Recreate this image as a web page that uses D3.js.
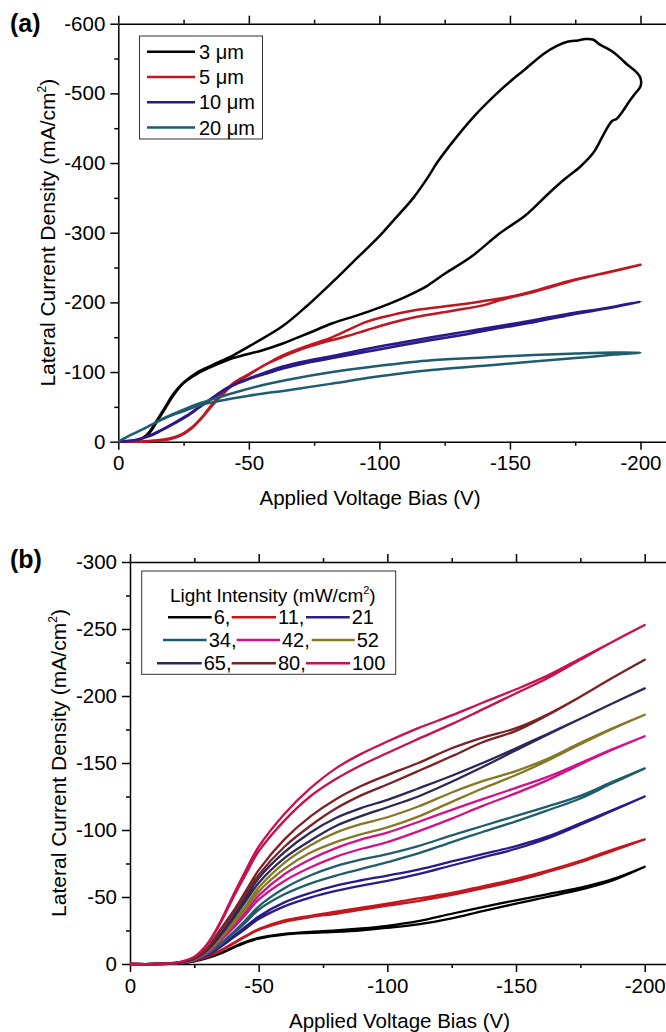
<!DOCTYPE html>
<html>
<head>
<meta charset="utf-8">
<script src="https://cdn.jsdelivr.net/npm/d3@7"></script>
<style>
  html, body { margin: 0; padding: 0; background: #fff; }
  svg { display: block; font-family: "Liberation Sans", Arial, sans-serif; }
  .domain, .tick line { stroke: #000; stroke-width: 1.5; }
</style>
</head>
<body>
<svg id="chart" width="666" height="1032"></svg>
<script>
/* lateral J-V hysteresis, two panels */

// ---- panel (a): gap width, [V, J] loops (forward then back)
const gapLabels = ['3 \u03bcm', '5 \u03bcm', '10 \u03bcm', '20 \u03bcm'];
const gapColors = ['#000000', '#c0161f', '#2b1889', '#1f5c6e'];

const loop3 = [
  [0, 0], [-4, -1], [-8, -3], [-11, -10], [-13, -20], [-15, -32], [-18, -50], [-21, -68],
  [-25, -85], [-30, -99], [-36, -110], [-44, -124], [-52, -141], [-63, -166], [-72, -194],
  [-82, -229], [-91, -262], [-100, -295], [-105, -316], [-113, -350], [-119, -382], [-122, -400],
  [-128, -430], [-136, -466], [-145, -500], [-151, -520], [-155, -532], [-163, -557],
  [-168, -568], [-172, -574], [-176, -576], [-179, -578], [-182, -577], [-184, -571],
  [-187, -565], [-190, -558], [-193, -548], [-195, -541], [-198, -532], [-200, -522], [-200, -510],
  [-198, -500], [-196, -490], [-191, -464], [-189, -460], [-186, -442], [-182, -415],
  [-177, -395], [-171, -377], [-165, -357], [-156, -325], [-146, -299], [-135, -265],
  [-125, -241], [-118, -223], [-110, -208], [-101, -194], [-92, -182], [-82, -170],
  [-73, -156], [-63, -141], [-55, -131], [-44, -120], [-36, -108], [-30, -97], [-25, -84],
  [-21, -66], [-18, -48], [-15, -30], [-13, -18], [-11, -9], [-8, -3], [-4, -1], [0, 0]
];
const loop5 = [
  [0, 0], [-5, 0], [-10, -0.5], [-15, -2], [-20, -5], [-24, -10], [-28, -20], [-32, -35],
  [-36, -54], [-40, -70], [-44, -84], [-50, -97], [-56, -110], [-63, -124], [-72, -137],
  [-82, -150], [-95, -172], [-105, -182], [-114, -189], [-127, -195], [-140, -202],
  [-150, -208], [-160, -217], [-172, -230], [-185, -241], [-200, -254],
  [-190, -245], [-175, -232], [-160, -216], [-146, -203], [-140, -196], [-128, -188],
  [-114, -179], [-104, -170], [-95, -160], [-88, -152], [-82, -146], [-72, -135],
  [-63, -122], [-56, -110], [-50, -96], [-44, -82], [-40, -68], [-36, -52], [-32, -34],
  [-28, -19], [-24, -9], [-20, -4], [-15, -1.5], [-10, 0], [0, 0]
];
const loop10 = [
  [0, 0], [-6, -2], [-12, -9], [-16, -16], [-21, -26], [-26, -37], [-31, -50], [-36, -63],
  [-41, -76], [-46, -85], [-50, -91], [-56, -99], [-63, -108], [-72, -116], [-82, -123],
  [-95, -133], [-108, -142], [-120, -150], [-133, -158], [-146, -166], [-160, -175],
  [-173, -184], [-187, -192], [-200, -201],
  [-187, -191], [-173, -182], [-160, -172], [-146, -163], [-133, -154], [-120, -146],
  [-108, -138], [-95, -129], [-82, -120], [-72, -113], [-63, -105], [-56, -97], [-50, -90],
  [-46, -84], [-41, -75], [-36, -62], [-31, -49], [-26, -36], [-21, -25], [-16, -15],
  [-12, -8], [-6, -2], [0, 0]
];
const loop20 = [
  [0, 0], [-5, -10], [-11, -21], [-18, -35], [-25, -46], [-31, -55], [-38, -63], [-45, -71],
  [-55, -81], [-65, -89], [-82, -100], [-100, -109], [-120, -117], [-140, -121],
  [-159, -124.5], [-175, -126.5], [-190, -128], [-200, -128],
  [-190, -125], [-175, -120], [-159, -115], [-140, -109], [-120, -103], [-100, -94],
  [-82, -83.5], [-65, -74], [-50, -66], [-38, -58], [-31, -52], [-25, -44], [-18, -34],
  [-11, -21], [-5, -10], [0, 0]
];
const gapLoops = [loop3, loop5, loop10, loop20];

// ---- panel (b): light intensity, common bias grid, forward / reverse sweeps
const intensities = ['6', '11', '21', '34', '42', '52', '65', '80', '100'];
const intColors = ['#000000', '#c4161f', '#2b1a8a', '#1f5d6d', '#d0138a',
                   '#857827', '#2b2858', '#7a2226', '#c8124e'];
const VB = [0, -10, -15, -20, -25, -30, -35, -40, -45, -50, -60, -70, -80, -90, -100,
            -112, -125, -137, -150, -162, -175, -187, -200];

const fwd6 = [0, 0, -0.2, -0.7, -2, -4.5, -8, -12.5, -16.5, -19.5, -22.5, -24, -25, -26.5, -28.5, -32, -37.5, -42.5, -47.5, -52, -57, -63, -72.6];
const rev6 = [0, 0, -0.2, -0.7, -2, -4.3, -7.7, -12, -16, -19, -22, -23.2, -24, -25.2, -27, -29.5, -34, -39.5, -45, -50, -55.5, -62, -72.6];
const fwd11 = [0, 0, -0.2, -0.8, -2.3, -5.5, -10, -15.5, -21, -26, -32.5, -36, -39, -42, -45, -49, -53, -58, -63.5, -69.5, -77, -85, -93];
const rev11 = [0, 0, -0.2, -0.8, -2.2, -5.3, -9.6, -15, -20.5, -25.5, -31.5, -35, -37.5, -40.5, -43.5, -47, -51.5, -56.5, -62, -68.5, -76, -84, -93];
const fwd21 = [0, 0, -0.3, -0.9, -2.7, -6.5, -13, -20.5, -28, -35.5, -46, -53, -58.5, -62.5, -66, -70.5, -76.5, -82, -88, -95, -105, -114.5, -125];
const rev21 = [0, 0, -0.3, -0.9, -2.6, -6.2, -12.5, -19.5, -26.5, -33.5, -43, -49.5, -54.5, -58.5, -62, -67, -73.5, -79.5, -86, -93.5, -104, -114, -125];
const fwd34 = [0, 0, -0.3, -1, -3, -7.5, -15, -23.5, -33, -43, -56.5, -66, -73, -78, -82, -88, -96, -103, -110.5, -117.5, -125.5, -135.5, -146];
const rev34 = [0, 0, -0.3, -1, -2.9, -7.2, -14.3, -22.5, -31, -40.5, -52, -60, -66, -71, -76, -82.5, -91, -98.5, -106.5, -114.5, -123.5, -134.5, -146];
const fwd42 = [0, 0, -0.3, -1.1, -3.3, -8.5, -18, -28, -39.5, -51, -67, -78, -86.5, -93, -98, -106, -115, -123, -131.5, -139.5, -150, -160, -170];
const rev42 = [0, 0, -0.3, -1.1, -3.2, -8.2, -17, -26.5, -37, -48, -62, -72, -80, -86, -91, -99, -108.5, -118, -127.5, -137, -149, -159.5, -170];
const fwd52 = [0, 0, -0.3, -1.2, -3.6, -9.5, -19.5, -31, -43.5, -57, -75.5, -88.5, -98, -104.5, -109.5, -117.5, -128, -136.5, -144, -153, -165, -175.5, -186];
const rev52 = [0, 0, -0.3, -1.2, -3.5, -9.2, -18.5, -29.5, -41, -54, -71, -83, -91, -97, -102, -110, -121, -131, -141, -151.5, -164, -175, -186];
const fwd65 = [0, 0, -0.3, -1.3, -4, -10.5, -22, -35, -49.5, -64, -83.5, -98, -109, -116.5, -122.5, -131, -140.5, -150, -161, -171.5, -183, -194, -205.7];
const rev65 = [0, 0, -0.3, -1.3, -3.9, -10.2, -21, -33.5, -47, -60.5, -79, -92, -103, -110.5, -117, -125, -136, -147, -159.5, -171, -183, -194, -205.7];
const fwd80 = [0, 0, -0.4, -1.5, -4.5, -12, -25.5, -39, -54.5, -70, -93, -110, -123, -133, -141, -150, -161, -169, -176, -186, -199.5, -213, -227];
const rev80 = [0, 0, -0.4, -1.5, -4.4, -11.6, -24.5, -37.5, -52, -66.5, -87.5, -103, -116, -126, -134, -144, -155, -165.5, -174, -185.5, -199.5, -213, -227];
const fwd100 = [0, 0, -0.5, -1.8, -5.5, -15, -31, -51, -70, -87.5, -112, -131, -146, -157, -166, -176, -185.5, -195, -205, -215, -228, -240, -253];
const rev100 = [0, 0, -0.5, -1.8, -5.4, -14.5, -30, -49, -67, -84, -107, -125, -138, -148.5, -157.5, -168, -179, -190, -202, -213, -227, -240, -253];

const fwdSweeps = [fwd6, fwd11, fwd21, fwd34, fwd42, fwd52, fwd65, fwd80, fwd100];
const revSweeps = [rev6, rev11, rev21, rev34, rev42, rev52, rev65, rev80, rev100];

// ticks
const xMajor = [0, -50, -100, -150, -200];
const xMinor = [-25, -75, -125, -175];
const yMajorA = [0, -100, -200, -300, -400, -500, -600];
const yMinorA = [-50, -150, -250, -350, -450, -550];
const yMajorB = [0, -50, -100, -150, -200, -250, -300];
const yMinorB = [-25, -75, -125, -175, -225, -275];

const svg = d3.select('#chart');
const FS = 20.5;

function frame(x, y, yMajor, yMinor) {
  const [x0] = x.range();
  const [yb, yt] = y.range();
  const fmt = d => String(d);

  const bot = svg.append('g').attr('transform', `translate(0,${yb})`);
  bot.call(d3.axisBottom(x).tickValues(xMajor).tickSize(8).tickSizeOuter(0).tickPadding(6).tickFormat(fmt));
  bot.append('g').call(d3.axisBottom(x).tickValues(xMinor).tickSize(4).tickSizeOuter(0).tickFormat(''))
    .select('.domain').remove();

  const top = svg.append('g').attr('transform', `translate(0,${yt})`);
  top.call(d3.axisTop(x).tickValues(xMajor).tickSize(8).tickSizeOuter(0).tickFormat(''));
  top.append('g').call(d3.axisTop(x).tickValues(xMinor).tickSize(4).tickSizeOuter(0).tickFormat(''))
    .select('.domain').remove();

  const left = svg.append('g').attr('transform', `translate(${x0},0)`);
  left.call(d3.axisLeft(y).tickValues(yMajor).tickSize(8).tickSizeOuter(0).tickPadding(5).tickFormat(fmt));
  left.append('g').call(d3.axisLeft(y).tickValues(yMinor).tickSize(4).tickSizeOuter(0).tickFormat(''))
    .select('.domain').remove();

  svg.selectAll('.tick text')
    .attr('font-size', FS).attr('font-family', '"Liberation Sans", Arial, sans-serif').attr('fill', '#000');
  svg.selectAll('g').attr('font-family', null).attr('font-size', null);
}

function yTitle(xBase, yMid) {
  const t = svg.append('text')
    .attr('transform', `translate(${xBase},${yMid}) rotate(-90)`)
    .attr('text-anchor', 'middle').attr('font-size', 21);
  t.append('tspan').text('Lateral Current Density (mA/cm');
  t.append('tspan').attr('font-size', 12).attr('dy', -9).text('2');
  t.append('tspan').attr('dy', 9).text(')');
}

function xTitle(xMid, yBase) {
  svg.append('text').attr('x', xMid).attr('y', yBase)
    .attr('text-anchor', 'middle').attr('font-size', FS)
    .text('Applied Voltage Bias (V)');
}

const line = (x, y) => d3.line()
  .x(d => x(d[0])).y(d => y(d[1]))
  .curve(d3.curveCatmullRom.alpha(0.5));

// ================= panel (a)
const xa = d3.scaleLinear().domain([0, -210]).range([118.3, 118.3 + 210 * 2.611]);
const ya = d3.scaleLinear().domain([0, -600]).range([441.7, 23.7]);

frame(xa, ya, yMajorA, yMinorA);

const la = line(xa, ya);
svg.append('g').selectAll('path').data(gapLoops).join('path')
  .attr('d', la).attr('fill', 'none')
  .attr('stroke', (d, i) => gapColors[i]).attr('stroke-width', 2.5)
  .attr('stroke-linejoin', 'round');

// legend (a)
const legA = svg.append('g');
legA.append('rect').attr('x', 139.5).attr('y', 36).attr('width', 123).attr('height', 103)
  .attr('fill', '#fff').attr('stroke', '#333').attr('stroke-width', 1);
gapLabels.forEach((lab, i) => {
  const cy = 51.7 + i * 25.3;
  legA.append('line').attr('x1', 147).attr('x2', 195).attr('y1', cy).attr('y2', cy)
    .attr('stroke', gapColors[i]).attr('stroke-width', 2.5);
  legA.append('text').attr('x', 199).attr('y', cy + 7).attr('font-size', 20).text(lab);
});

svg.append('text').attr('x', 10).attr('y', 31.5).attr('font-size', 25)
  .attr('font-weight', 'bold').text('(a)');
yTitle(55, (23.7 + 441.7) / 2);
xTitle(370, 505);

// ================= panel (b)
const xb = d3.scaleLinear().domain([0, -210]).range([130, 130 + 210 * 2.5735]);
const yb = d3.scaleLinear().domain([0, -300]).range([964, 562]);

frame(xb, yb, yMajorB, yMinorB);

const lb = line(xb, yb);
const sweeps = fwdSweeps.map((f, k) =>
  VB.map((v, i) => [v, f[i]]).concat(VB.map((v, i) => [v, revSweeps[k][i]]).reverse()));

svg.append('g').selectAll('path').data(sweeps).join('path')
  .attr('d', lb).attr('fill', 'none')
  .attr('stroke', (d, i) => intColors[i]).attr('stroke-width', 2.3)
  .attr('stroke-linejoin', 'round');

// legend (b)
const legB = svg.append('g');
legB.append('rect').attr('x', 141.7).attr('y', 571).attr('width', 254).attr('height', 103.3)
  .attr('fill', '#fff').attr('stroke', '#333').attr('stroke-width', 1);
const ttl = legB.append('text').attr('x', 170).attr('y', 601.5).attr('font-size', 19);
ttl.append('tspan').text('Light Intensity (mW/cm');
ttl.append('tspan').attr('font-size', 11).attr('dy', -8).text('2');
ttl.append('tspan').attr('dy', 8).text(')');

// sample-line spans per legend slot (row by row)
const slots = [
  [168, 211.7], [231.7, 276], [306, 349.7],
  [163, 206.7], [236.7, 280], [311.7, 354.7],
  [157, 201.7], [231.7, 276], [306, 350]
];
const rowY = [617.3, 640, 663.3];
intensities.forEach((lab, i) => {
  const cy = rowY[Math.floor(i / 3)];
  const [a, b] = slots[i];
  legB.append('line').attr('x1', a).attr('x2', b).attr('y1', cy).attr('y2', cy)
    .attr('stroke', intColors[i]).attr('stroke-width', 2.5);
  legB.append('text').attr('x', b + 2).attr('y', cy + 7).attr('font-size', 20)
    .text(i % 3 === 2 ? lab : lab + ',');
});

svg.append('text').attr('x', 10).attr('y', 568).attr('font-size', 25)
  .attr('font-weight', 'bold').text('(b)');
yTitle(66, (562 + 964) / 2);
xTitle(399.5, 1028);
</script>
</body>
</html>
